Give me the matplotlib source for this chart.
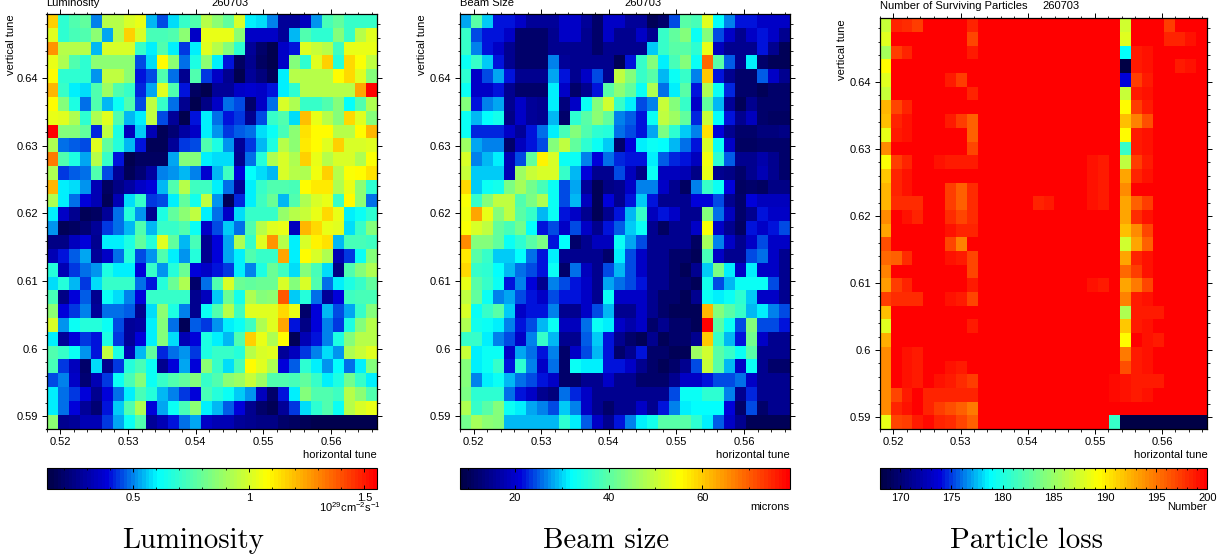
import numpy as np
import matplotlib
matplotlib.use("Agg")
import matplotlib.pyplot as plt
from matplotlib.colors import LinearSegmentedColormap
from matplotlib.ticker import MultipleLocator

plt.rcParams['font.family'] = ['Liberation Sans', 'DejaVu Sans']
plt.rcParams['mathtext.fontset'] = 'custom'
plt.rcParams['mathtext.rm'] = 'Liberation Sans'
plt.rcParams['mathtext.default'] = 'regular'

# rows run from the top of the plot to the bottom
luminosity = [
    [1.17,.69,.76,.78,.50,.94,.94,1.00,1.03,.55,.45,.57,.70,.76,.94,.86,.78,1.00,.60,.57,.50,.27,.27,.34,.51,.74,.78,.71,.71,.71],
    [1.02,.69,.74,.76,.86,.53,.94,1.17,1.00,.73,.74,.76,.86,.36,1.04,1.04,1.04,.86,.36,.36,.36,.27,.54,.76,.69,.69,.84,.71,.94,1.02],
    [1.27,.94,.94,.94,.55,1.00,1.00,1.00,.71,.60,.76,.60,.43,.60,1.02,.94,.84,.69,.27,.19,.15,.36,.40,1.02,.98,.94,.72,1.04,1.04,1.04],
    [1.03,.92,.76,.69,.86,.86,.86,.86,.45,.57,1.08,.86,.48,.65,.86,.60,.40,.18,.26,.18,.15,.35,.84,.69,1.02,1.17,.68,1.15,1.07,.96],
    [1.08,.69,.69,.69,.52,.96,.96,.86,.40,.45,.76,.48,.26,.76,.43,.35,.26,.15,.27,.23,.17,.60,.94,.94,.94,.94,1.08,1.15,1.02,.84],
    [1.21,.70,.60,.57,.76,.90,.76,.70,.42,.53,1.02,.76,.40,.18,.15,.27,.28,.36,.37,.36,.40,.60,.69,.94,.94,.94,.94,.94,1.24,1.55],
    [1.08,.84,.66,.48,.76,.55,.62,.76,.45,.96,.70,.48,.26,.15,.25,.36,.49,.45,.20,.35,.49,1.00,.92,.70,.70,.76,.84,.61,.76,.92],
    [1.04,1.02,.92,.69,.92,1.02,.76,.55,.60,.96,.45,.27,.15,.40,.60,.49,.40,.43,.26,.45,.70,.76,.57,1.19,1.03,.94,.84,1.15,1.02,.84],
    [1.55,.84,.84,.78,.42,.96,.66,.34,.56,.33,.17,.22,.30,.35,.60,.52,.44,.47,.49,.57,.62,.74,.86,1.14,1.08,1.08,.94,.94,1.08,1.21],
    [.92,.49,.47,.45,1.02,.78,.68,.55,.40,.17,.17,.28,.43,.45,.76,.66,.51,.27,.43,.55,.66,.94,.86,1.12,1.08,1.02,1.17,1.00,1.00,1.02],
    [1.33,.76,.66,.53,.94,.70,.40,.15,.18,.18,.18,.53,.84,.84,.60,.58,.57,.26,.48,.68,.92,1.00,.92,1.17,1.03,.94,1.00,1.00,.92,1.07],
    [.92,.43,.46,.48,.76,.45,.28,.16,.22,.30,.50,.52,.55,.50,.37,.55,.72,.38,.61,.58,.55,1.00,.94,.92,1.06,1.17,.94,1.07,1.08,1.14],
    [1.21,.60,.57,.52,.33,.18,.24,.30,.35,.39,.55,.76,.94,.72,.72,.60,.49,.27,.60,.70,.76,.76,.74,1.08,1.12,1.12,.92,1.03,.86,.69],
    [.92,.60,.49,.38,.33,.17,.33,.57,.70,.43,.45,.60,.78,.64,.96,.51,.17,.42,.60,.72,.80,.54,.76,.92,1.00,1.03,.71,1.08,.86,.49],
    [.60,.35,.26,.17,.18,.28,.49,.68,.52,.26,.65,.78,.86,.96,.60,.49,.36,.57,.70,.70,.70,.88,.94,.98,1.04,1.15,1.03,.60,.62,.69],
    [.51,.16,.18,.22,.27,.43,.49,.54,.76,.55,.70,.70,.76,.62,.36,.45,.56,.49,.76,.94,1.02,1.03,.34,1.21,1.15,1.04,1.02,.57,.70,.84],
    [.24,.24,.34,.39,.26,.59,.60,.66,.78,.68,1.02,.78,.54,.74,.26,.38,.53,.92,.70,1.02,1.27,.94,.60,1.00,1.10,1.13,.54,.74,.74,.72],
    [.33,.41,.46,.53,.28,.36,.49,.68,.45,.51,.76,.60,.52,.68,.26,.39,.53,.60,.76,.70,.70,1.24,.60,1.08,1.00,.92,.33,.43,.62,.84],
    [.68,.33,.43,.49,.52,.65,.60,.60,.38,.70,.52,.68,.80,.38,.36,.40,.43,.60,.50,.66,.80,.72,.57,.84,.74,.57,.25,.76,.84,.92],
    [.57,.68,.55,.44,.58,.70,.70,.70,.49,.40,.68,.80,.92,.19,.49,.76,1.00,.80,.78,.80,.80,1.00,.84,1.00,.76,.49,.60,.66,.70,.78],
    [.74,.25,.38,.47,.26,.62,.57,.50,.38,.70,.71,.71,.70,.26,.34,.56,.80,.64,.92,.84,.86,1.38,.56,.68,.49,.28,.39,.72,.74,.74],
    [.86,.38,.44,.50,.28,.49,.49,.47,.26,.58,.86,.66,.50,.26,.62,.76,.94,.72,1.02,1.02,1.02,1.15,1.04,.20,.38,.55,.45,.53,.70,.84],
    [1.00,.52,.62,.68,.68,.62,.45,.27,.30,.60,.84,.49,.17,.46,.43,.52,.60,.62,.72,.92,1.02,1.24,.40,.25,.38,.50,.44,.66,.84,.94],
    [.60,.28,.38,.44,.40,.65,.44,.27,.38,.60,.84,.57,.33,.38,.66,.60,.55,.76,1.17,1.04,.92,1.08,.17,.33,.41,.50,.66,.84,.94,.94],
    [.76,.70,.62,.51,.41,.96,.66,.33,.54,.78,.42,.48,.52,.43,.66,.70,.70,.68,.94,1.00,1.02,.27,.34,.43,.50,.57,.52,.92,.98,1.02],
    [.74,.43,.34,.20,.57,.26,.44,.68,.74,.62,.26,.39,.53,.39,.86,.71,.58,.74,1.08,1.02,.92,.39,.47,.69,.60,.52,.61,.49,.60,.84],
    [.45,.50,.36,.22,.33,.44,.62,.74,.84,.62,.70,.76,.78,.84,.70,.76,.86,.90,.98,.90,.76,.76,.74,.78,.70,.60,.66,.82,.70,.60],
    [.60,.49,.43,.39,.26,.38,.49,.59,.74,.68,.55,.50,.44,.38,.74,.68,.62,.56,.52,.34,.19,.40,.60,.84,.76,.76,.72,.94,.86,.76],
    [.60,.49,.39,.27,.22,.40,.56,.76,.92,.39,.53,.62,.74,.86,.60,.55,.47,.38,.26,.19,.17,.27,.43,.57,.69,.76,.62,.94,1.00,1.04],
    [.86,.26,.27,.33,.33,.44,.53,.62,.76,.27,.33,.40,.48,.53,.36,.33,.33,.27,.26,.25,.25,.20,.18,.16,.15,.15,.15,.15,.15,.15],
]

beam_size = [
    [28.5,40,30,22,22,20,16,16,16,20,20,16,12,20,20,16,16,10,12,24.5,40,38,52.5,32,26.5,22,22,20,20,20],
    [36.5,24,22,22,20,12,12,12,15,20,20,15,12,20,15,15,20,15,36.5,41,44,33,44,24.5,20,15,20,22,20,15],
    [36.5,26.5,22,20,15,12,12,12,15,15,15,15,12,15,15,15,15,30,37,40,40,36,53,19,15,15,15,22,15,10],
    [33,37,30,22,15,12,12,12,26.5,16,15,15,15,15,10,22,37,44,31,38,44,33,69,40,25,15,31,12,10,10],
    [36,20,24,28.5,22,15,15,15,28,22,15,20,24,15,49,44,37,40,29,33,37,27,60,22,15,12,12,25,20,15],
    [33,20,20,22,15,12,12,12,31,20,12,15,22,40,45,41,33,48,26,31,40,22,48,33,23,12,12,10,12,12],
    [44,22,26.5,28.5,15,20,16,15,31,13,20,33,44,51,37,31,24.5,27,50,44,37,20,41,29,16,10,15,12,12,12],
    [33,29,32,34,14,20,16,15,29,12,36,40,45,41,27,25,22,33,49,46,41,23,50,32,22,15,19,12,11,11],
    [33,23,23,23,20,16,22,26,31,38,44,39,36,35,26,24,22,28,43,36,30,27,58,21,15,12,12,13,13,14],
    [46,28,27,27,12,19,22,24,44,49,41,36,33,30,12,21,31,33,32,29,26,22,52,33,20,11,11,12,12,12],
    [52,27,29,31,18,24,41,56,52,33,33,27,21,26,23,22,22,31,25,23,22,19,54,36,25,15,15,17,15,12],
    [50,30,30,30,18,46,50,52,52,37,29,21,15,15,24,19,14,33,19,19,18,14,53,15,14,12,15,18,15,12],
    [59,30,33,34,43,47,42,38,33,24,28,16,10,14,15,20,27,27,20,15,11,27,37,33,21,11,12,11,14,14],
    [55,37,44,49,49,39,43,48,33,24,29,19,10,21,15,22,30,22,15,15,15,21,21,24,15,12,21,19,19,19],
    [54,63,53,44,49,40,37,29,33,22,20,15,10,15,22,29,37,19,22,20,15,15,44,26,19,12,15,22,20,20],
    [55,52,49,41,38,42,32,22,24.5,20,24,20,15,22,25,30,33,15,11,15,15,20,55,20,15,11,22,20,22,24],
    [66,44,44,41,33,36,40,43,22,32,12,15,19,19,33,28,24,15,15,15,15,11,47,27,20,15,20,24,20,20],
    [57,40,37,30,30,32,26,22,31,15,15,15,15,12,31,24,20,15,15,12,12,10,38,20,15,15,24,26,20,15],
    [59,37,36,32,29,26,24,22,33,12,26,19,15,24,29,24,20,15,15,12,10,15,30,43,31,20,31,20,20,15],
    [53,40,37,33,22,27,21,15,27,24,22,20,15,28,26,24,22,15,15,12,12,10,34,24,29,33,33,33,24,15],
    [49,41,33,27,28,24,22,20,24,22,22,20,15,33,20,20,20,15,12,12,10,15,33,31,33,36,30,20,20,15],
    [52,33,37,40,30,20,22,22,27,15,15,20,24,29,15,15,20,15,12,10,10,10,62,44,40,37,29,31,27,24],
    [48,34,33,31,27,22,24,29,33,19,19,26,33,31,20,17,20,12,15,12,12,10,78,40,33,24,44,24,24,22],
    [37,37,31,27,24,20,27,37,29,15,15,25,30,22,15,12,10,15,10,12,12,15,60,37,29,22,42,20,15,15],
    [50,31,33,33,20,28,26,22,27,12,20,24,29,22,12,15,22,12,12,10,10,46,51,40,37,33,40,15,15,15],
    [44,31,33,37,22,36,27,20,26,12,33,31,31,22,22,20,15,12,10,12,15,24,50,40,29,20,33,15,12,12],
    [44,27,31,33,29,26,24,22,20,12,12,15,15,20,15,15,12,12,12,15,20,20,22,24,24,26,20,15,15,15],
    [43,36,36,36,26,22,20,15,13,26,23,20,15,15,15,15,15,15,15,24,33,33,36,36,27,15,23,15,15,15],
    [48,37,40,44,33,31,28,27,24,30,27,20,15,12,15,15,20,15,22,27,31,32,32,32,21,12,24,12,15,15],
    [42,47,45,44,29,29,29,29,29,36,31,25,20,15,22,27,31,34,40,40,40,36,31,25,20,15,10,10,10,10],
]

particles = [
    [187,198.3,198,197.4,200,200,200,200,198.5,200,200,200,200,200,200,200,200,200,200,200,200,200,187.5,200,200,200,197.5,200,200,200],
    [188,200,200,200,200,200,200,200,197,200,200,200,200,200,200,200,200,200,200,200,200,200,188,200,200,200,198.3,198.3,199,200],
    [185.5,197.5,198.5,200,200,200,200,200,198.7,200,200,200,200,200,200,200,200,200,200,200,200,200,178.7,198.7,199,200,200,200,200,200],
    [189.5,200,200,200,200,200,200,200,200,200,200,200,200,200,200,200,200,200,200,200,200,200,168,198.7,199,200,200,198.7,199,200],
    [188,200,200,200,200,200,198.7,197.5,200,200,200,200,200,200,200,200,200,200,200,200,200,200,173.7,197.5,198.7,200,200,200,200,200],
    [187,200,200,200,200,200,200,200,198.5,200,200,200,200,200,200,200,200,200,200,200,200,200,187,198.7,199,200,200,200,200,200],
    [192.5,197,198.5,200,200,200,200,200,200,200,200,200,200,200,200,200,200,200,200,200,200,200,189.5,197.5,198.7,200,200,200,200,200],
    [192,198.5,199,200,200,200,198.7,197.5,196,200,200,200,200,200,200,200,200,200,200,200,200,200,192,194.5,196.5,200,200,200,200,200],
    [188.5,198.7,199,200,200,200,200,200,196,200,200,200,200,200,200,200,200,200,200,200,200,200,189.5,198.7,199,200,200,200,200,200],
    [194,200,200,200,200,200,200,200,197,200,200,200,200,200,200,200,200,200,200,200,200,200,180.8,198.7,199,200,200,200,200,200],
    [189,197.5,198.5,200,200,199,198.7,198.7,198.7,200,200,200,200,200,200,200,200,200,200,199,198.7,200,186.5,197.5,198.7,200,200,200,200,200],
    [191.5,198.5,199,200,200,200,200,200,200,200,200,200,200,200,200,200,200,200,200,199,198.7,200,193,198.5,199,200,200,200,200,200],
    [192.5,198.5,199,200,200,200,197.5,196,198,200,200,200,200,200,200,200,200,200,200,199,198.7,200,194,200,200,200,200,200,200,200],
    [192.5,198,198,198,200,200,197.5,196,198,200,200,200,200,200,198.3,198.7,200,200,200,199,198.7,200,193,196,197.5,200,200,200,200,200],
    [194,200,199,198.3,200,200,198,197,198,200,200,200,200,200,200,200,200,200,200,200,200,200,193,198,199,200,200,200,200,200],
    [193,200,200,200,200,200,199,198.5,198.5,200,200,200,200,200,200,200,200,200,200,200,200,200,192,194,197,200,200,200,200,200],
    [196.5,200,200,200,200,200,197,194.5,200,200,200,200,200,200,200,200,200,200,200,200,200,200,187.5,193,196,200,200,200,200,200],
    [195.5,196,198,200,200,200,199,198.7,197,200,200,200,200,200,200,200,200,200,200,200,200,200,193,198.5,199,200,200,200,200,200],
    [194.5,200,200,200,200,200,200,200,197,200,200,200,200,200,200,200,200,200,200,200,200,200,195.5,197.5,199,200,200,200,200,200],
    [193.5,197.5,198.5,200,200,200,200,200,198.7,200,200,200,200,200,200,200,200,200,200,199,198.7,200,193,195,197,200,200,200,200,200],
    [197.5,198,198,198,200,200,199,198.7,197,200,200,200,200,200,200,200,200,200,200,200,200,200,194.5,198.7,199,200,200,200,200,200],
    [192,200,200,200,200,200,200,200,200,200,200,200,200,200,200,200,200,200,200,200,200,200,186,198.7,198.7,198.7,200,200,200,200],
    [188,200,200,200,200,200,200,200,198.7,200,200,200,200,200,200,200,200,200,200,200,200,200,191.5,198.7,199,200,200,200,200,200],
    [192.7,200,200,200,200,200,200,200,200,200,200,200,200,200,200,200,200,200,200,200,200,200,189.5,200,199,198.7,200,200,200,200],
    [194,200,199,198.7,200,200,200,200,200,200,200,200,200,200,200,200,200,200,200,200,200,200,195,198.7,199,200,200,200,200,200],
    [194,200,199,198.7,200,200,199,198.7,200,200,200,200,200,200,200,200,200,200,200,200,200,200,196.5,198.7,199,200,200,200,200,200],
    [194,200,199,198.7,200,199,198.7,198,197.5,200,200,200,200,200,200,200,200,200,200,200,200,199.5,199,198.7,198.7,198.7,200,200,200,200],
    [194,197,198.7,200,198.5,198.5,198.5,198.5,198.5,200,200,200,200,200,200,200,200,200,200,200,200,199.5,199,198.7,199,200,200,200,200,200],
    [194,198.5,199,200,198.5,197.5,196.5,196,195,200,200,200,200,200,200,200,200,200,200,200,200,200,200,200,200,200,200,200,200,200],
    [188.5,197,197.5,198.7,199.5,198.5,198,197,196,200,200,200,200,200,200,200,200,200,200,200,200,181,168,168,168,168,168,168,168,168],
]

titles = ['Luminosity', 'Beam Size', 'Number of Surviving Particles']
captions = ['Luminosity', 'Beam size', 'Particle loss']
x_major = [0.52, 0.53, 0.54, 0.55, 0.56]
y_major = [0.59, 0.6, 0.61, 0.62, 0.63, 0.64]
y_major_labels = ['0.59', '0.6', '0.61', '0.62', '0.63', '0.64']

cmap = LinearSegmentedColormap.from_list('tune', [
    (0, (0, 0, 0.27)), (0.18, (0, 0, 0.85)), (0.335, (0, 1, 1)),
    (0.5, (0.5, 1, 0.5)), (0.67, (1, 1, 0)), (1, (1, 0, 0))], N=90)

W, H = 1229, 560
fig = plt.figure(figsize=(W / 100, H / 100), dpi=100)


def box(x0, x1, y0, y1):
    return [x0 / W, 1 - y1 / H, (x1 - x0) / W, (y1 - y0) / H]


def panel(data, x0, x1, top, bottom, vmin, vmax, title, title_x, date_x, title_y, vlabel_x,
          cbar_ticks, cbar_minor, unit, unit_x, caption, caption_x):
    ax = fig.add_axes(box(x0, x1, top, bottom))
    xe = np.linspace(0.51796, 0.56674, 31)
    ye = np.linspace(0.6495, 0.5882, 31)
    m = ax.pcolormesh(xe, ye, np.array(data), cmap=cmap, vmin=vmin, vmax=vmax)
    ax.set_xlim(xe[0], xe[-1])
    ax.set_ylim(ye[-1], ye[0])
    ax.set_xticks(x_major)
    ax.set_xticklabels(['0.52', '0.53', '0.54', '0.55', '0.56'])
    ax.set_yticks(y_major)
    ax.set_yticklabels(y_major_labels)
    ax.xaxis.set_minor_locator(MultipleLocator(0.002))
    ax.yaxis.set_minor_locator(MultipleLocator(0.002))
    ax.tick_params(which='major', direction='out', length=3.5, width=0.7, labelsize=8,
                   top=True, right=True, pad=2.5)
    ax.tick_params(which='minor', direction='out', length=1.8, width=0.6, top=True, right=True)
    for s in ax.spines.values():
        s.set_linewidth(0.9)
    fig.text(x1 / W, 1 - 455.5 / H, 'horizontal tune', ha='right', va='center', fontsize=8)
    fig.text(vlabel_x / W, 1 - (top + 31) / H, 'vertical tune', rotation=90, ha='center', va='center', fontsize=8)
    fig.text(title_x / W, 1 - title_y / H, title, ha='left', va='center', fontsize=8)
    fig.text(date_x / W, 1 - title_y / H, '260703', ha='center', va='center', fontsize=8)

    cax = fig.add_axes(box(x0, x1, 468.3, 488.6))
    cb = fig.colorbar(m, cax=cax, orientation='horizontal')
    cb.set_ticks(cbar_ticks)
    cb.set_ticklabels([('%g' % t) for t in cbar_ticks])
    cax.xaxis.set_minor_locator(MultipleLocator(cbar_minor))
    cax.tick_params(which='major', direction='in', length=3, width=0.7, labelsize=8,
                    top=True, bottom=True, pad=3)
    cax.tick_params(which='minor', direction='in', length=1.5, width=0.6, top=True, bottom=True)
    fig.text(unit_x / W, 1 - 507 / H, unit, ha='right', va='center', fontsize=8)
    fig.text(caption_x / W, 1 - 541 / H, caption, ha='center', va='center',
             fontsize=20.8, family='cmr10')


panel(luminosity, 46.5, 376.7, 14, 428.5, 0.126, 1.553, titles[0], 46.5, 230, 3, 11,
      [0.5, 1, 1.5], 0.1, r'$10^{29}cm^{-2}s^{-1}$', 381, captions[0], 193)
panel(beam_size, 459.7, 789.7, 14, 428.5, 8.3, 78.6, titles[1], 459.7, 643, 3, 422,
      [20, 40, 60], 10, 'microns', 789.7, captions[1], 606)
panel(particles, 879.7, 1207.3, 18.3, 429, 168, 200, titles[2], 879.7, 1061, 6, 842,
      [170, 175, 180, 185, 190, 195, 200], 1, 'Number', 1207.3, captions[2], 1026)

fig.savefig('out.png', dpi=100)
